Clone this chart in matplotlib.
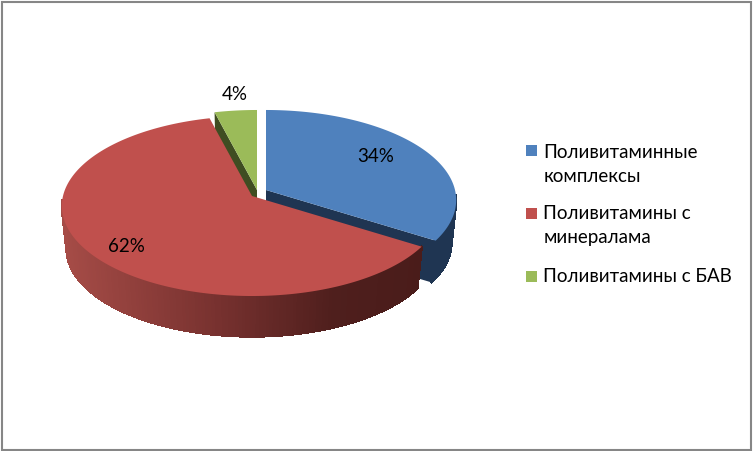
import numpy as np
import matplotlib
matplotlib.use("Agg")
import matplotlib.pyplot as plt
from matplotlib.patches import Polygon, Rectangle
from matplotlib.collections import PolyCollection
from matplotlib.colors import LinearSegmentedColormap

plt.rcParams['font.family'] = ['Lato', 'Open Sans', 'DejaVu Sans']

# Данные диаграммы
categorias = ['Поливитаминные\nкомплексы', 'Поливитамины с\nминералама', 'Поливитамины с БАВ']
valores = [34, 62, 4]
etiquetas = ['34%', '62%', '4%']

colores = ['#4f81bd', '#c0504d', '#9bbb59']
colores_lado = ['#1f3552', '#4c1d1b', '#3f4d22']

fig = plt.figure(figsize=(7.53, 4.51), dpi=100)
ax = fig.add_axes([0, 0, 1, 1])
ax.set_xlim(0, 753)
ax.set_ylim(451, 0)
ax.axis('off')

# Centro de cada porción (la vista en perspectiva las separa un poco)
centros = [(266, 190), (252, 196), (257, 190)]
R = 189
A = 88.9
K = -1 / 9
GROSOR = 43
ESCALA_BASE = 0.975

cmap_lado = LinearSegmentedColormap.from_list('lado', [(0, '#a64c47'), (0.45, '#75302e'),
                                                       (0.75, '#4f1f1d'), (1, '#4a1c1a')])


def proyectar(theta, centro, base=False):
    """Pasa un ángulo (horario desde las 12) al borde del disco en perspectiva"""
    u = np.sin(theta)
    v = -np.cos(theta)
    s = ESCALA_BASE if base else 1
    dy = GROSOR if base else 0
    x = centro[0] + s * R * u / (1 + K * v)
    y = centro[1] + dy + s * A * v / (1 + K * v)
    return np.column_stack([x, y])


fracciones = np.array(valores) / sum(valores)
bordes = np.concatenate([[0], np.cumsum(fracciones)]) * 2 * np.pi

# Orden de dibujo: primero lo que queda detrás
for z, i in enumerate([0, 2, 1]):
    centro = centros[i]
    thetas = np.linspace(bordes[i], bordes[i + 1], 240)
    arco = proyectar(thetas, centro)
    arco_base = proyectar(thetas, centro, base=True)

    # Pared exterior por tiras, solo la parte delantera del disco
    tiras = [[arco[j], arco[j + 1], arco_base[j + 1], arco_base[j]] for j in range(len(thetas) - 1)
             if -np.cos(thetas[j]) > 0.05]
    if tiras:
        if i == 1:
            # El lateral rojo lleva degradado horizontal
            medios = np.array([np.mean(t, axis=0)[0] for t in tiras])
            col_tiras = cmap_lado((medios - 62) / (421 - 62))
        else:
            col_tiras = colores_lado[i]
        ax.add_collection(PolyCollection(tiras, facecolors=col_tiras, edgecolors=col_tiras, linewidths=1,
                                         antialiaseds=False, zorder=z * 3 + 1))

    # Cara de corte visible: derecha en la azul, izquierda en la verde
    if i != 1:
        extremo = thetas[-1] if i == 0 else thetas[0]
        p_sup = proyectar(np.array([extremo]), centro)[0]
        p_inf = proyectar(np.array([extremo]), centro, base=True)[0]
        cara = [centro, p_sup, p_inf, (centro[0], centro[1] + GROSOR)]
        ax.add_patch(Polygon(cara, closed=True, fc=colores_lado[i], ec='none', zorder=z * 3 + 1))

    # Cara superior
    ax.add_patch(Polygon(np.vstack([[centro], arco]), closed=True, fc=colores[i], ec='none', zorder=z * 3 + 2))

# Etiquetas de porcentaje
pos_etiquetas = [(376, 156), (126, 246), (235, 94)]
for txt, (x, y) in zip(etiquetas, pos_etiquetas):
    ax.text(x, y, txt, ha='center', va='center', fontsize=13.5, color='black', zorder=20)

# Leyenda
pos_cuadros = [150.5, 213.5, 276.5]
pos_textos = [144, 205, 268]
for cat, col, yc, yt in zip(categorias, colores, pos_cuadros, pos_textos):
    ax.add_patch(Rectangle((526, yc - 5.5), 11.5, 11, fc=col, ec='none', zorder=20))
    ax.text(543.5, yt, cat, ha='left', va='top', fontsize=13.5, color='black', linespacing=1.5, zorder=20)

# Marco del gráfico
ax.add_patch(Rectangle((2, 1.5), 749.5, 448.5, fc='none', ec='#868686', lw=1.5, zorder=21))

fig.savefig('out.png', dpi=100)
